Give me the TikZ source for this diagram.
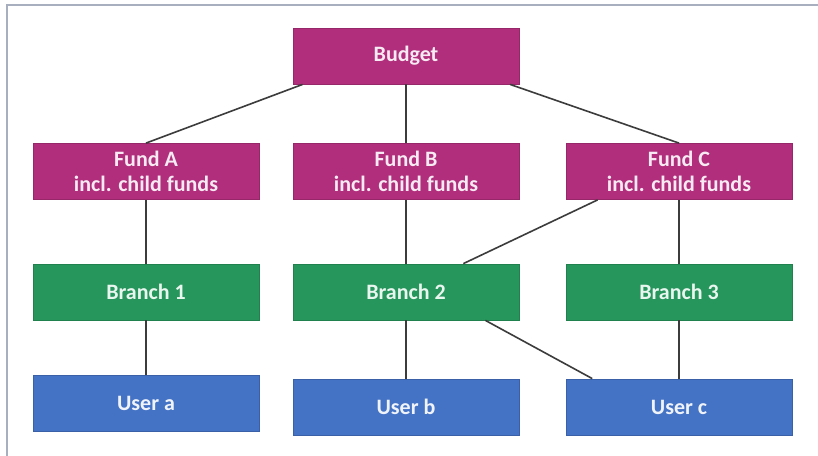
\documentclass[tikz,border=0pt]{standalone}
\usepackage{fontspec}
\setmainfont{Carlito}
\definecolor{fundpink}{RGB}{176,46,124}
\definecolor{branchgreen}{RGB}{38,150,92}
\definecolor{userblue}{RGB}{68,114,196}
\definecolor{linkgray}{RGB}{60,60,60}
\definecolor{framegray}{RGB}{168,175,190}
\tikzset{
  box/.style={minimum width=169.5pt, minimum height=42pt, inner sep=0pt, align=center,
    line width=0.6pt, font=\fontsize{16.5}{19}\selectfont\bfseries},
  fund/.style={box, fill=fundpink, draw=fundpink!85!black, text=fundpink!10!white},
  branch/.style={box, fill=branchgreen, draw=branchgreen!85!black, text=branchgreen!10!white},
  user/.style={box, fill=userblue, draw=userblue!85!black, text=userblue!8!white},
  link/.style={draw=linkgray, line width=1.2pt}
}
\begin{document}
\begin{tikzpicture}[x=0.75pt, y=-0.75pt]
\useasboundingbox[fill=white] (0,0) rectangle (818,456);
\draw[framegray, line width=1.5pt] (7,456) -- (7,5.5) -- (818,5.5);
% top level
\node[fund] (budget) at (406,56) {Budget};
% funds
\node[fund] (funda) at (146,171.5) {Fund A\\incl. child funds};
\node[fund] (fundb) at (406,171.5) {Fund B\\incl. child funds};
\node[fund] (fundc) at (679,171.5) {Fund C\\incl. child funds};
% branches
\node[branch] (branch1) at (146,292) {Branch 1};
\node[branch] (branch2) at (406,292) {Branch 2};
\node[branch] (branch3) at (679,292) {Branch 3};
% users
\node[user] (usera) at (146,403.5) {User a};
\node[user] (userb) at (406,407) {User b};
\node[user] (userc) at (679,407) {User c};
% links
\draw[link] ([xshift=7.5pt]budget.south west) -- (funda.north);
\draw[link] (budget.south) -- (fundb.north);
\draw[link] ([xshift=-7pt]budget.south east) -- (fundc.north);
\draw[link] (funda.south) -- (branch1.north);
\draw[link] (fundb.south) -- (branch2.north);
\draw[link] ([xshift=24pt]fundc.south west) -- ([xshift=-42pt]branch2.north east);
\draw[link] (fundc.south) -- (branch3.north);
\draw[link] (branch1.south) -- (usera.north);
\draw[link] (branch2.south) -- (userb.north);
\draw[link] ([xshift=-25.5pt]branch2.south east) -- ([xshift=20pt]userc.north west);
\draw[link] (branch3.south) -- (userc.north);
\end{tikzpicture}
\end{document}
